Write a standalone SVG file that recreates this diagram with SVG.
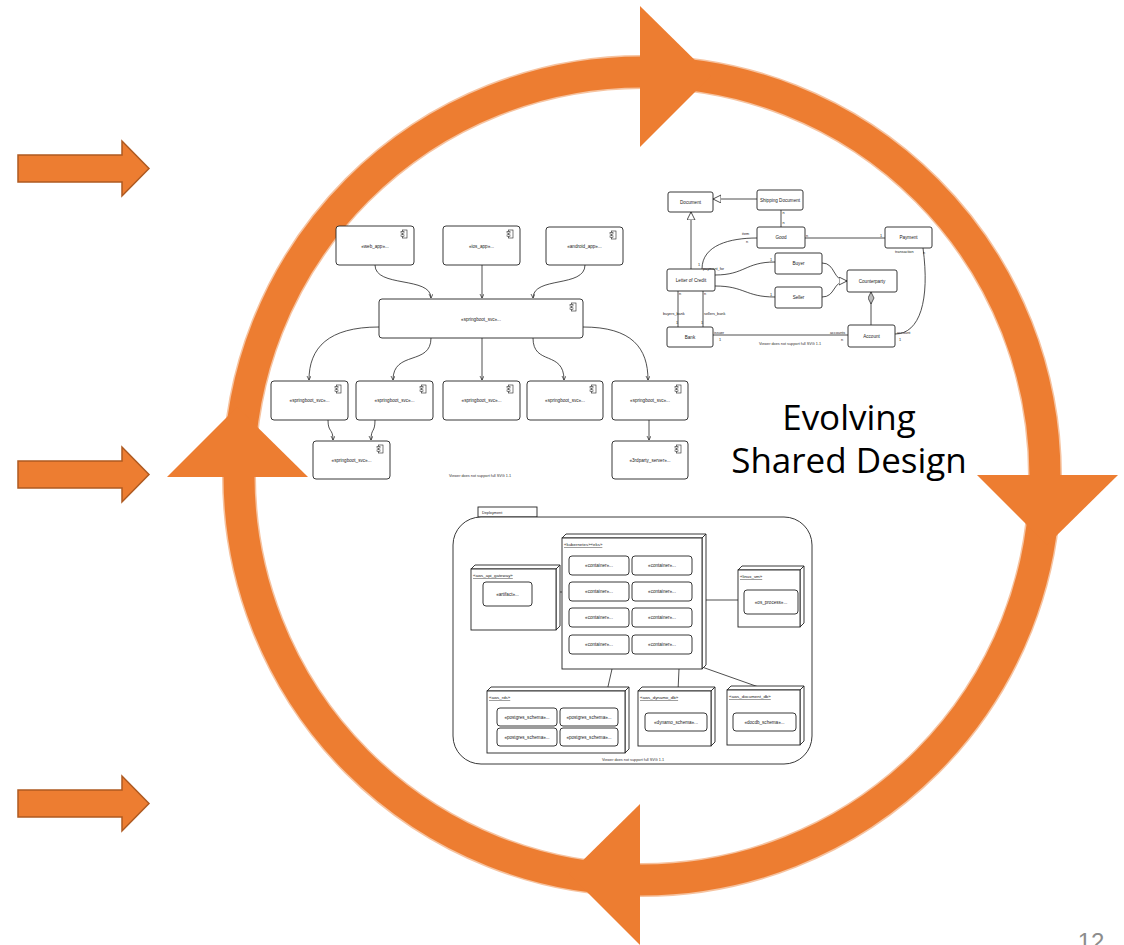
<svg xmlns="http://www.w3.org/2000/svg" width="1124" height="945" viewBox="0 0 1124 945">
  <style>
    .bx { fill: #fff; stroke: #222; stroke-width: 0.9; }
    .ln { fill: none; stroke: #222; stroke-width: 0.8; }
    .t { font-family: "Liberation Sans", Arial, sans-serif; font-size: 4.6px; fill: #222; text-anchor: middle; }
    .ts { font-family: "Liberation Sans", Arial, sans-serif; font-size: 3.8px; fill: #222; }
    .tu { font-family: "Liberation Sans", Arial, sans-serif; font-size: 4.4px; fill: #222; text-decoration: underline; }
    .note { font-family: "Liberation Sans", Arial, sans-serif; font-size: 3.8px; fill: #333; text-anchor: middle; }
    .big { font-family: "Open Sans", "Noto Sans", sans-serif; font-size: 35px; fill: #000; text-anchor: middle; }
    .blk { fill: #ED7D31; stroke: #AE5A21; stroke-width: 1.5; }
    .head { fill: #ED7D31; }
  </style>
  <defs>
    <g id="cicon">
      <rect x="1.5" y="0" width="4.5" height="8" fill="#fff" stroke="#222" stroke-width="0.6"/>
      <rect x="0" y="1.6" width="3" height="1.5" fill="#fff" stroke="#222" stroke-width="0.5"/>
      <rect x="0" y="4.8" width="3" height="1.5" fill="#fff" stroke="#222" stroke-width="0.5"/>
    </g>
    <marker id="arr" markerUnits="userSpaceOnUse" markerWidth="6" markerHeight="6" refX="4" refY="2" orient="auto">
      <path d="M0,0 L4,2 L0,4" fill="none" stroke="#222" stroke-width="0.7"/>
    </marker>
    <marker id="gen" markerUnits="userSpaceOnUse" markerWidth="10" markerHeight="10" refX="8" refY="4" orient="auto">
      <path d="M0,0 L8,4 L0,8 Z" fill="#fff" stroke="#222" stroke-width="0.8"/>
    </marker>
    <marker id="agg" markerUnits="userSpaceOnUse" markerWidth="14" markerHeight="8" refX="12" refY="3" orient="auto">
      <path d="M0,3 L6,0 L12,3 L6,6 Z" fill="#bbb" stroke="#222" stroke-width="0.7"/>
    </marker>
  </defs>

  <!-- cycle ring -->
  <g id="cycle">
    <ellipse cx="642" cy="476" rx="403" ry="404" fill="none" stroke="#F6C3A0" stroke-width="34"/>
    <ellipse cx="642" cy="476" rx="403" ry="404" fill="none" stroke="#ED7D31" stroke-width="31"/>
    <polygon class="head" points="640,6 640,147 711,76"/>
    <polygon class="head" points="977,475 1118,475 1047,545"/>
    <polygon class="head" points="167,477 308,477 237,407"/>
    <polygon class="head" points="640,804 640,945 569,874"/>
  </g>

  <!-- input arrows -->
  <g id="inputs">
    <polygon class="blk" points="18,155 122,155 122,141 149,168.5 122,196 122,182 18,182"/>
    <polygon class="blk" points="18,461 122,461 122,447 149,474.5 122,502 122,488 18,488"/>
    <polygon class="blk" points="18,790 122,790 122,776 149,803.5 122,831 122,817 18,817"/>
  </g>

  <!-- component diagram -->
  <g id="components">
    <g id="c-web"><rect class="bx" x="336" y="226" width="78" height="39" rx="3"/><use href="#cicon" x="401" y="230"/><text class="t" x="375" y="248">«web_app»...</text></g>
    <g id="c-ios"><rect class="bx" x="443" y="226" width="77" height="39" rx="3"/><use href="#cicon" x="507" y="230"/><text class="t" x="481.5" y="248">«ios_app»...</text></g>
    <g id="c-android"><rect class="bx" x="546" y="227" width="77" height="38" rx="3"/><use href="#cicon" x="610" y="231"/><text class="t" x="584.5" y="248">«android_app»...</text></g>
    <g id="c-main"><rect class="bx" x="379" y="299" width="204" height="39" rx="3"/><use href="#cicon" x="570" y="303"/><text class="t" x="481" y="321">«springboot_svc»...</text></g>
    <g id="c-s1"><rect class="bx" x="271" y="381" width="77" height="39" rx="3"/><use href="#cicon" x="335" y="385"/><text class="t" x="309.5" y="402">«springboot_svc»...</text></g>
    <g id="c-s2"><rect class="bx" x="356" y="381" width="77" height="39" rx="3"/><use href="#cicon" x="420" y="385"/><text class="t" x="394.5" y="402">«springboot_svc»...</text></g>
    <g id="c-s3"><rect class="bx" x="443" y="381" width="77" height="39" rx="3"/><use href="#cicon" x="507" y="385"/><text class="t" x="481.5" y="402">«springboot_svc»...</text></g>
    <g id="c-s4"><rect class="bx" x="527" y="381" width="76" height="39" rx="3"/><use href="#cicon" x="590" y="385"/><text class="t" x="565" y="402">«springboot_svc»...</text></g>
    <g id="c-s5"><rect class="bx" x="612" y="381" width="76" height="39" rx="3"/><use href="#cicon" x="675" y="385"/><text class="t" x="650" y="402">«springboot_svc»...</text></g>
    <g id="c-s6"><rect class="bx" x="313" y="441" width="77" height="38" rx="3"/><use href="#cicon" x="377" y="445"/><text class="t" x="351.5" y="462">«springboot_svc»...</text></g>
    <g id="c-3p"><rect class="bx" x="612" y="441" width="76" height="38" rx="3"/><use href="#cicon" x="675" y="445"/><text class="t" x="650" y="462">«3rdparty_server»...</text></g>
    <g id="c-links">
      <path class="ln" marker-end="url(#arr)" d="M375,265 C375,288 431,276 431,298"/>
      <path class="ln" marker-end="url(#arr)" d="M482,265 L482,298"/>
      <path class="ln" marker-end="url(#arr)" d="M585,265 C585,288 533,276 533,298"/>
      <path class="ln" marker-end="url(#arr)" d="M379,327 C328,327 309,348 309,380"/>
      <path class="ln" marker-end="url(#arr)" d="M431,338 C431,366 393,350 393,380"/>
      <path class="ln" marker-end="url(#arr)" d="M482,338 L482,380"/>
      <path class="ln" marker-end="url(#arr)" d="M533,338 C533,366 564,350 564,380"/>
      <path class="ln" marker-end="url(#arr)" d="M583,327 C632,327 648,348 648,380"/>
      <path class="ln" marker-end="url(#arr)" d="M328,420 C328,433 333,428 333,440"/>
      <path class="ln" marker-end="url(#arr)" d="M375,420 C375,433 371,428 371,440"/>
      <path class="ln" marker-end="url(#arr)" d="M649,420 L649,440"/>
    </g>
    <text class="note" x="480" y="477">Viewer does not support full SVG 1.1</text>
  </g>

  <!-- class diagram -->
  <g id="classes">
    <g id="k-links">
      <path class="ln" marker-end="url(#gen)" d="M757,199 L713,199"/>
      <path class="ln" marker-end="url(#gen)" d="M691,269 L691,212"/>
      <path class="ln" d="M781,210 L781,227"/>
      <path class="ln" d="M805,238 L885,238"/>
      <path class="ln" d="M702,269 C702,245 730,238 757,238"/>
      <path class="ln" d="M715,275 C745,275 745,262 775,262"/>
      <path class="ln" d="M715,286 C745,286 745,297 775,297"/>
      <path class="ln" d="M822,263 C836,263 832,281 847,281"/>
      <path class="ln" marker-end="url(#gen)" d="M822,297 C836,297 832,281 847,281"/>
      <path class="ln" marker-end="url(#agg)" d="M871,325 L871,292"/>
      <path class="ln" d="M923,248 C930,300 920,334 895,334"/>
      <path class="ln" d="M678,291 L678,327"/>
      <path class="ln" d="M703,291 L703,327"/>
      <path class="ln" d="M713,335 L848,335"/>
    </g>
    <g id="k-document"><rect class="bx" x="668" y="192" width="45" height="20" rx="2"/><text class="t" x="690.5" y="203.5">Document</text></g>
    <g id="k-shipping"><rect class="bx" x="757" y="190" width="46" height="20" rx="2"/><text class="t" x="780" y="201.5">Shipping Document</text></g>
    <g id="k-good"><rect class="bx" x="757" y="227" width="48" height="21" rx="2"/><text class="t" x="781" y="239">Good</text></g>
    <g id="k-payment"><rect class="bx" x="885" y="227" width="47" height="21" rx="2"/><text class="t" x="908.5" y="239">Payment</text></g>
    <g id="k-buyer"><rect class="bx" x="775" y="253" width="47" height="21" rx="2"/><text class="t" x="798.5" y="265">Buyer</text></g>
    <g id="k-seller"><rect class="bx" x="775" y="287" width="47" height="21" rx="2"/><text class="t" x="798.5" y="299">Seller</text></g>
    <g id="k-counterparty"><rect class="bx" x="847" y="270" width="50" height="22" rx="2"/><text class="t" x="872" y="282.5">Counterparty</text></g>
    <g id="k-loc"><rect class="bx" x="667" y="269" width="48" height="22" rx="2"/><text class="t" x="691" y="281.5">Letter of Credit</text></g>
    <g id="k-bank"><rect class="bx" x="667" y="327" width="46" height="20" rx="2"/><text class="t" x="690" y="338.5">Bank</text></g>
    <g id="k-account"><rect class="bx" x="848" y="325" width="47" height="22" rx="2"/><text class="t" x="871.5" y="337.5">Account</text></g>
    <g id="k-labels">
      <text class="ts" x="782.5" y="214">n</text>
      <text class="ts" x="782.5" y="224">n</text>
      <text class="ts" x="742" y="235">item</text>
      <text class="ts" x="746" y="243">n</text>
      <text class="ts" x="806" y="237">n</text>
      <text class="ts" x="880" y="237">1</text>
      <text class="ts" x="698" y="266">1</text>
      <text class="ts" x="703" y="270">payment_for</text>
      <text class="ts" x="770" y="261">1</text>
      <text class="ts" x="770" y="296">1</text>
      <text class="ts" x="895" y="253">transaction</text>
      <text class="ts" x="923" y="254">n</text>
      <text class="ts" x="897" y="334">account</text>
      <text class="ts" x="899" y="341">1</text>
      <text class="ts" x="679" y="295">n</text>
      <text class="ts" x="704" y="295">n</text>
      <text class="ts" x="663" y="315">buyers_bank</text>
      <text class="ts" x="704" y="315">sellers_bank</text>
      <text class="ts" x="676" y="324">1</text>
      <text class="ts" x="701" y="324">1</text>
      <text class="ts" x="714" y="334">issuer</text>
      <text class="ts" x="719" y="341">1</text>
      <text class="ts" x="830" y="334">accounts</text>
      <text class="ts" x="841" y="341">n</text>
    </g>
    <text class="note" x="790" y="345">Viewer does not support full SVG 1.1</text>
  </g>

  <!-- deployment diagram -->
  <g id="deployment">
    <rect class="bx" x="478" y="507" width="59" height="10"/>
    <text class="ts" x="482" y="513.5">Deployment</text>
    <rect class="bx" x="453" y="517" width="359" height="247" rx="28"/>

    <g id="d-links">
      <path class="ln" d="M556,592 L562,592"/>
      <path class="ln" d="M702,600 L738,600"/>
      <path class="ln" d="M612,669 L607,691"/>
      <path class="ln" d="M679,669 L678,691"/>
      <path class="ln" d="M702,667 L767,690"/>
    </g>

    <g id="d-k8s">
      <polygon class="bx" points="562,538 566,534 706,534 702,538"/>
      <polygon class="bx" points="702,538 706,534 706,665 702,669"/>
      <rect class="bx" x="562" y="538" width="140" height="131"/>
      <text class="tu" x="564" y="546">«kubernetes»«eks»</text>
      <rect class="bx" x="569" y="556" width="60" height="19" rx="3"/><text class="t" x="599" y="567">«container»...</text>
      <rect class="bx" x="632" y="556" width="60" height="19" rx="3"/><text class="t" x="662" y="567">«container»...</text>
      <rect class="bx" x="569" y="582" width="60" height="19" rx="3"/><text class="t" x="599" y="593">«container»...</text>
      <rect class="bx" x="632" y="582" width="60" height="19" rx="3"/><text class="t" x="662" y="593">«container»...</text>
      <rect class="bx" x="569" y="608" width="60" height="19" rx="3"/><text class="t" x="599" y="619">«container»...</text>
      <rect class="bx" x="632" y="608" width="60" height="19" rx="3"/><text class="t" x="662" y="619">«container»...</text>
      <rect class="bx" x="569" y="635" width="60" height="19" rx="3"/><text class="t" x="599" y="646">«container»...</text>
      <rect class="bx" x="632" y="635" width="60" height="19" rx="3"/><text class="t" x="662" y="646">«container»...</text>
    </g>

    <g id="d-gateway">
      <polygon class="bx" points="471,569 475,565 560,565 556,569"/>
      <polygon class="bx" points="556,569 560,565 560,626 556,630"/>
      <rect class="bx" x="471" y="569" width="85" height="61"/>
      <text class="tu" x="473" y="577">«aws_api_gateway»</text>
      <rect class="bx" x="483" y="582" width="49" height="24" rx="3"/>
      <text class="t" x="507.5" y="595.5">«artifact»...</text>
    </g>

    <g id="d-linux">
      <polygon class="bx" points="738,570 742,566 804,566 800,570"/>
      <polygon class="bx" points="800,570 804,566 804,623 800,627"/>
      <rect class="bx" x="738" y="570" width="62" height="57"/>
      <text class="tu" x="740" y="578">«linux_vm»</text>
      <rect class="bx" x="744" y="590" width="54" height="24" rx="3"/>
      <text class="t" x="771" y="603.5">«os_process»...</text>
    </g>

    <g id="d-rds">
      <polygon class="bx" points="487,691 491,687 629,687 625,691"/>
      <polygon class="bx" points="625,691 629,687 629,749 625,753"/>
      <rect class="bx" x="487" y="691" width="138" height="62"/>
      <text class="tu" x="489" y="699">«aws_rds»</text>
      <rect class="bx" x="497" y="708" width="60" height="18" rx="3"/><text class="t" x="527" y="718.5">«postgres_schema»...</text>
      <rect class="bx" x="560" y="708" width="58" height="18" rx="3"/><text class="t" x="589" y="718.5">«postgres_schema»...</text>
      <rect class="bx" x="497" y="728" width="60" height="18" rx="3"/><text class="t" x="527" y="738.5">«postgres_schema»...</text>
      <rect class="bx" x="560" y="728" width="58" height="18" rx="3"/><text class="t" x="589" y="738.5">«postgres_schema»...</text>
    </g>

    <g id="d-dynamo">
      <polygon class="bx" points="638,691 642,687 715,687 711,691"/>
      <polygon class="bx" points="711,691 715,687 715,742 711,746"/>
      <rect class="bx" x="638" y="691" width="73" height="55"/>
      <text class="tu" x="640" y="699">«aws_dynamo_db»</text>
      <rect class="bx" x="645" y="713" width="62" height="18" rx="3"/>
      <text class="t" x="676" y="723.5">«dynamo_schema»...</text>
    </g>

    <g id="d-docdb">
      <polygon class="bx" points="727,690 731,686 804,686 800,690"/>
      <polygon class="bx" points="800,690 804,686 804,741 800,745"/>
      <rect class="bx" x="727" y="690" width="73" height="55"/>
      <text class="tu" x="729" y="698">«aws_document_db»</text>
      <rect class="bx" x="733" y="713" width="63" height="18" rx="3"/>
      <text class="t" x="764.5" y="723.5">«docdb_schema»...</text>
    </g>

    <text class="note" x="633" y="761">Viewer does not support full SVG 1.1</text>
  </g>

  <!-- caption -->
  <g id="caption">
    <text class="big" x="849" y="430">Evolving</text>
    <text class="big" x="849" y="473">Shared Design</text>
  </g>

  <!-- slide number, partly below the bottom edge -->
  <text x="1091" y="950" font-family="Liberation Sans, Arial, sans-serif" font-size="24" fill="#8c8c8c" text-anchor="middle">12</text>
</svg>
